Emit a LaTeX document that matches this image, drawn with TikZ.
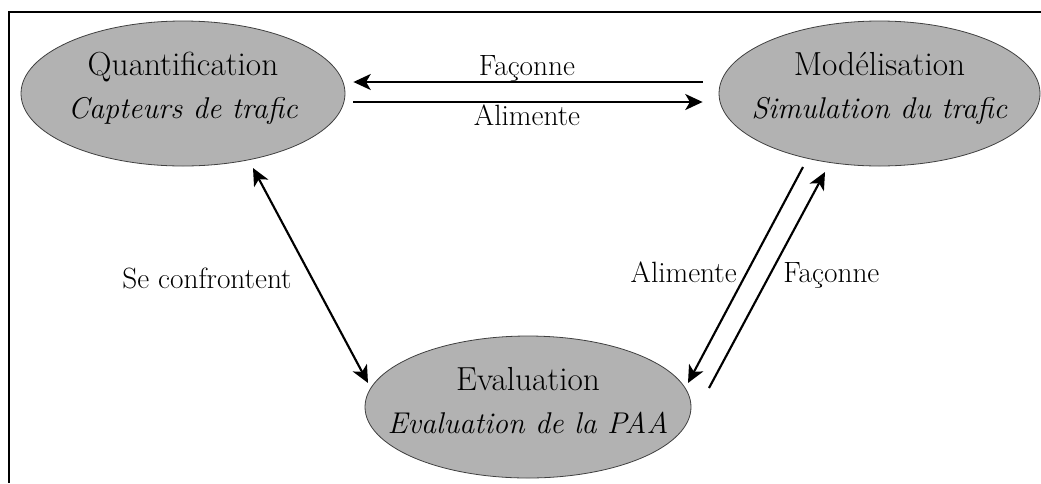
\documentclass[tikz,border=0pt]{standalone}
\usetikzlibrary{arrows.meta,shapes.geometric}
\definecolor{ellgray}{gray}{0.70}

\begin{document}
\begin{tikzpicture}[x=0.75pt,y=-0.75pt,
 pole/.style={ellipse,draw=black!75,line width=0.6pt,fill=ellgray,inner sep=0pt},
 poletext/.style={align=center,inner sep=0pt,font=\fontsize{25}{32}\selectfont},
 lbl/.style={anchor=base,font=\fontsize{22}{26}\selectfont,inner sep=0pt},
 link/.style={line width=1.6pt},
 >={Stealth[length=13pt,width=12pt,inset=3.5pt]}]
\newcommand{\subline}[1]{\fontsize{22.5}{32}\selectfont\textit{#1}}
\useasboundingbox (0,0) rectangle (1041,483);
\draw[line width=1.6pt] (1041,12) -- (9,12) -- (9,483);
% the three poles
\node[pole,minimum width=243pt,minimum height=108.75pt] (quant) at (183,93.5) {};
\node[pole,minimum width=240.75pt,minimum height=108.75pt] (model) at (879.5,93.5) {};
\node[pole,minimum width=244.5pt,minimum height=106.5pt] (eval) at (528,407) {};
\node[poletext] (quantTxt) at ([yshift=4]quant.center) {Quantification\\\subline{Capteurs de trafic}};
\node[poletext] (modelTxt) at ([yshift=4]model.center) {Mod\'elisation\\\subline{Simulation du trafic}};
\node[poletext] (evalTxt) at ([yshift=5]eval.center) {Evaluation\\\subline{Evaluation de la PAA}};
% top pair
\draw[link,->] ([shift={(-16,-11.5)}]model.west) -- ([shift={(8,-11.5)}]quant.east);
\draw[link,->] ([shift={(8,8.5)}]quant.east) -- ([shift={(-16,8.5)}]model.west);
\node[lbl] (facTop) at (527,75) {Fa\c{c}onne};
\node[lbl] (aliTop) at (527,125) {Alimente};
% left link
\draw[link,<->] ([shift={(70,74.5)}]quant.center) -- ([shift={(-160,-24)}]eval.center);
\node[lbl] (confr) at (207,288) {Se confrontent};
% right pair
\draw[link,->] ([shift={(-76.5,73.5)}]model.center) -- ([shift={(160,-24)}]eval.center);
\draw[link,->] ([shift={(181,-19)}]eval.center) -- ([shift={(-54.5,78.5)}]model.center);
\node[lbl,anchor=base east] (aliRight) at (737,282) {Alimente};
\node[lbl,anchor=base west] (facRight) at (783,282) {Fa\c{c}onne};
\end{tikzpicture}
\end{document}
